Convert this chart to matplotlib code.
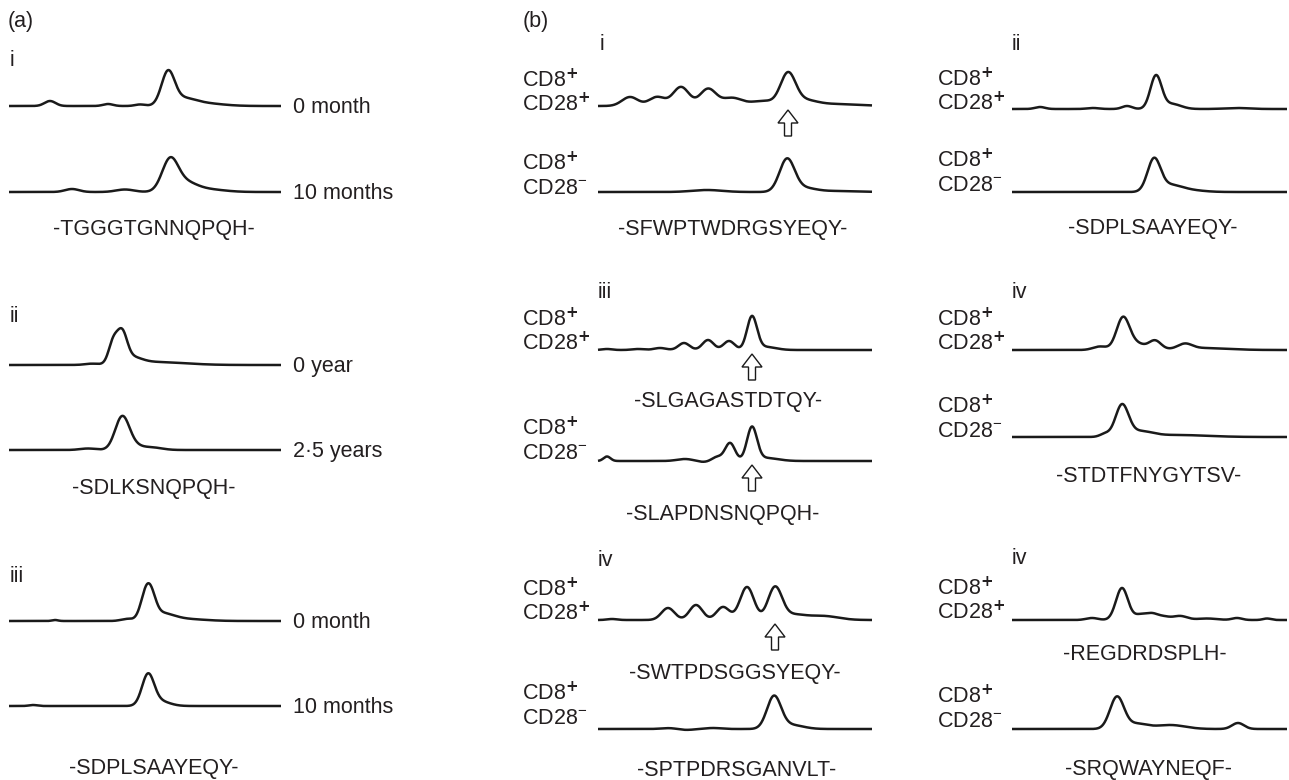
import numpy as np
import matplotlib.pyplot as plt
from matplotlib.patches import Polygon

plt.rcParams['font.family'] = ['Liberation Sans', 'DejaVu Sans']
plt.rcParams['mathtext.fontset'] = 'custom'
plt.rcParams['mathtext.rm'] = 'Liberation Sans'
plt.rcParams['mathtext.default'] = 'regular'

# spectratype traces: peaks as (position, height, width)
a_i_0m = [(41, 5, 5.5), (99, 2, 5), (131, 1.5, 5), (159, 32, 6.5), (173, 6, 12), (191, 3, 20)]
a_i_10m = [(63, 3, 7), (116, 2.5, 9), (161, 31, 8), (176, 8, 11), (195, 3, 18)]
a_ii_0y = [(82, 1, 6), (104, 20, 4.5), (113, 28, 5), (122, 6, 10), (145, 3, 30)]
a_ii_25y = [(79, 1.5, 8), (113, 31, 7), (122, 5, 9), (143, 2.5, 10)]
a_iii_0m = [(46, 1, 3), (118, 2, 6), (136, 20, 5), (142, 20, 5), (152, 7, 12), (175, 2, 20)]
a_iii_10m = [(24, 1, 4), (139, 30, 6), (150, 5, 10)]

b_i_pos = [(32, 9, 8), (59, 9, 8), (83, 19, 8), (110, 17, 8), (134, 8, 10), (165, 5, 12),
           (190, 31, 7.5), (206, 5, 12), (235, 2, 25)]
b_i_neg = [(109, 2, 15), (189, 32, 7.5), (205, 4, 12), (240, 1, 20)]
b_iii_pos = [(9, 1, 5), (40, 1, 6), (62, 2, 6), (86, 7, 5.5), (110, 10, 5.5), (131, 9, 5.5),
             (154, 33, 5), (168, 3, 10)]
b_iii_neg = [(9, 4.5, 3.5), (87, 2, 8), (105, -1, 6), (119, 4, 5), (132, 18, 5),
             (154, 33, 5), (168, 3, 12)]
b_iv_pos = [(14, 1, 5), (70, 12, 6.5), (98, 15, 6.5), (125, 13, 6.5), (149, 33, 7),
            (177, 32, 7), (195, 5, 12), (225, 4, 15)]
b_iv_neg = [(72, 1, 8), (87, -1, 8), (115, 1, 8), (176, 32, 7), (193, 4, 12)]

b_ii_pos = [(28, 2, 5), (81, 1, 6), (115, 3, 5), (144, 33, 5.6), (160, 5, 9), (225, 1, 12)]
b_ii_neg = [(142, 32, 6.5), (158, 6, 11), (175, 2, 15)]
b_iv2_pos = [(88, 3.5, 7), (111, 32, 6.5), (125, 6, 8), (143, 9, 6), (173, 5, 7), (190, 2, 25)]
b_iv2_neg = [(93, 3, 5), (110, 31, 6.5), (128, 5, 12), (165, 2, 30)]
b_iv3_pos = [(80, 2, 6), (110, 32, 6), (128, 5, 6), (140, 6, 6), (152, 3, 6), (168, 4, 7),
             (195, 1.5, 10), (225, 2, 5), (255, 1.5, 4)]
b_iv3_neg = [(105, 32, 7), (125, 5, 10), (158, 4, 15), (226, 6, 6)]

time_labels = ['0 month', '10 months', '0 year', '2·5 years', '0 month', '10 months']
a_sequences = ['-TGGGTGNNQPQH-', '-SDLKSNQPQH-', '-SDPLSAAYEQY-']
b_sequences = ['-SFWPTWDRGSYEQY-', '-SLGAGASTDTQY-', '-SLAPDNSNQPQH-', '-SWTPDSGGSYEQY-',
               '-SPTPDRSGANVLT-', '-SDPLSAAYEQY-', '-STDTFNYGYTSV-', '-REGDRDSPLH-',
               '-SRQWAYNEQF-']
a_panels = ['i', 'ii', 'iii']
b_panels = ['i', 'iii', 'iv', 'ii', 'iv', 'iv']
# peaks marked with an arrow: (trace, position)
arrows = [('b_i_pos', 190), ('b_iii_pos', 154), ('b_iii_neg', 154), ('b_iv_pos', 177)]

W, H = 1289, 780
LC = '#1a1a1a'
TC = '#231f20'
FS = 15.5

fig = plt.figure(figsize=(W / 100, H / 100), dpi=100)
lay = fig.add_axes([0, 0, 1, 1])
lay.set_xlim(0, W)
lay.set_ylim(H, 0)
lay.axis('off')


def trace(ax, peaks, length):
    x = np.linspace(0, length, 800)
    y = np.zeros_like(x)
    for c, h, s in peaks:
        y += h * np.exp(-0.5 * ((x - c) / s) ** 2)
    ax.plot(x, y, color=LC, lw=1.8, clip_on=False, solid_capstyle='butt')


# name: (peaks, x0, length, baseline)
traces = {
    'a_i_0m': (a_i_0m, 9, 272, 106), 'a_i_10m': (a_i_10m, 9, 272, 192),
    'a_ii_0y': (a_ii_0y, 9, 272, 365), 'a_ii_25y': (a_ii_25y, 9, 272, 450),
    'a_iii_0m': (a_iii_0m, 9, 272, 621), 'a_iii_10m': (a_iii_10m, 9, 272, 706),
    'b_i_pos': (b_i_pos, 598, 274, 106), 'b_i_neg': (b_i_neg, 598, 274, 192),
    'b_iii_pos': (b_iii_pos, 598, 274, 350), 'b_iii_neg': (b_iii_neg, 598, 274, 461),
    'b_iv_pos': (b_iv_pos, 598, 274, 620), 'b_iv_neg': (b_iv_neg, 598, 274, 729),
    'b_ii_pos': (b_ii_pos, 1012, 275, 109), 'b_ii_neg': (b_ii_neg, 1012, 275, 192),
    'b_iv2_pos': (b_iv2_pos, 1012, 275, 350), 'b_iv2_neg': (b_iv2_neg, 1012, 275, 437),
    'b_iv3_pos': (b_iv3_pos, 1012, 275, 620), 'b_iv3_neg': (b_iv3_neg, 1012, 275, 729),
}

for name, (peaks, x0, length, base) in traces.items():
    ax = fig.add_axes([x0 / W, (H - base - 6) / H, length / W, 48 / H])
    ax.set_xlim(0, length)
    ax.set_ylim(-6, 42)
    ax.axis('off')
    trace(ax, peaks, length)

# panel (a) labels
lay.text(8, 22, '(a)', fontsize=FS, color=TC, va='center')
for lab, y in zip(a_panels, [61, 316, 576]):
    lay.text(10, y, lab, fontsize=FS, color=TC, va='center')
a_names = ['a_i_0m', 'a_i_10m', 'a_ii_0y', 'a_ii_25y', 'a_iii_0m', 'a_iii_10m']
for lab, nm in zip(time_labels, a_names):
    lay.text(293, traces[nm][3] + 7, lab, fontsize=FS, color=TC, va='baseline')
for seq, y in zip(a_sequences, [235, 494, 774]):
    lay.text(154, y, seq, fontsize=FS, color=TC, ha='center', va='baseline')

# panel (b) labels
lay.text(523, 22, '(b)', fontsize=FS, color=TC, va='center')
for lab, (x, y) in zip(b_panels, [(600, 45), (598, 293), (598, 561),
                                  (1012, 44), (1012, 293), (1012, 558)]):
    lay.text(x, y, lab, fontsize=FS, color=TC, va='center')

cd_rows = [(522, 111, '+'), (522, 194, '-'), (522, 350, '+'), (522, 459, '-'),
           (522, 620, '+'), (522, 724, '-'), (937, 110, '+'), (937, 191, '-'),
           (937, 350, '+'), (937, 437, '-'), (937, 619, '+'), (937, 727, '-')]
for x, yb, sign in cd_rows:
    lay.text(x, yb - 24, r'CD8$^{\mathbf{+}}$', fontsize=FS, color=TC, va='baseline')
    lay.text(x, yb, r'CD28$^{%s}$' % (r'\mathbf{+}' if sign == '+' else '\u2212'),
             fontsize=FS, color=TC, va='baseline')

for seq, (x, y) in zip(b_sequences, [(733, 235), (728, 407), (723, 520), (735, 679),
                                      (737, 776), (1153, 234), (1149, 482), (1145, 660),
                                      (1149, 775)]):
    lay.text(x, y, seq, fontsize=FS, color=TC, ha='center', va='baseline')

# hollow arrows under marked peaks
for nm, pos in arrows:
    _, x0, _, base = traces[nm]
    cx, top = x0 + pos, base + 4
    pts = [(cx, top), (cx + 10, top + 13), (cx + 3.5, top + 13), (cx + 3.5, top + 26),
           (cx - 3.5, top + 26), (cx - 3.5, top + 13), (cx - 10, top + 13)]
    lay.add_patch(Polygon(pts, closed=True, facecolor='white', edgecolor=LC, lw=1.0))

fig.savefig('out.png', dpi=100)
